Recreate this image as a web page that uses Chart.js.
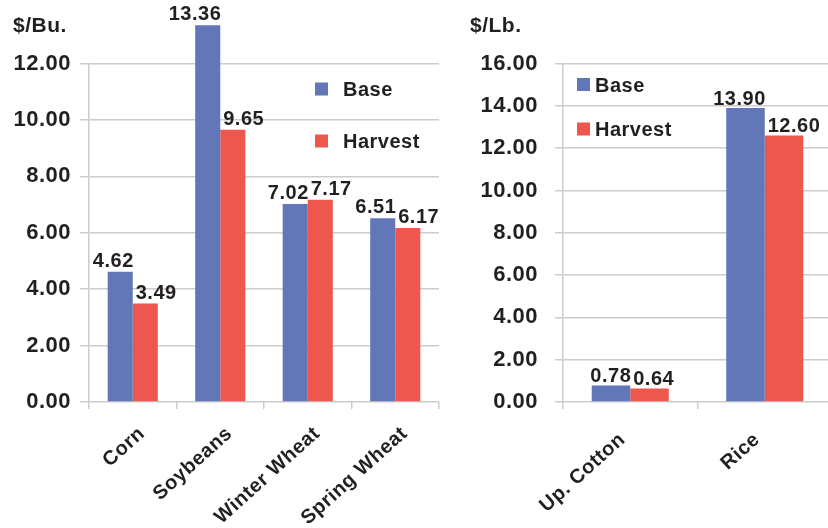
<!DOCTYPE html>
<html>
<head>
<meta charset="utf-8">
<script src="https://cdn.jsdelivr.net/npm/chart.js@4.4.0/dist/chart.umd.min.js"></script>
<style>
  html, body { margin: 0; padding: 0; background: #ffffff; width: 828px; height: 528px; overflow: hidden; }
  canvas { position: absolute; top: 0; }
  #grainChart { left: 0; }
  #fiberChart { left: 420px; }
</style>
</head>
<body>
<canvas id="grainChart" width="440" height="528"></canvas>
<canvas id="fiberChart" width="420" height="528"></canvas>
<script>
// Projected prices, base vs. harvest
const seriesNames = ['Base', 'Harvest'];

const grainCrops   = ['Corn', 'Soybeans', 'Winter Wheat', 'Spring Wheat'];
const grainBase    = [4.62, 13.36, 7.02, 6.51];
const grainHarvest = [3.49, 9.65, 7.17, 6.17];
const grainUnit    = '$/Bu.';
const grainAxisMax = 12;

const fiberCrops   = ['Up. Cotton', 'Rice'];
const fiberBase    = [0.78, 13.90];
const fiberHarvest = [0.64, 12.60];
const fiberUnit    = '$/Lb.';
const fiberAxisMax = 16;

const tickStep = 2;

const INK = '#231f20';
const GRID = '#cccccc';
const COLORS = ['#6177b8', '#ee574d'];
const FONT = '"Liberation Sans", Arial, Helvetica, sans-serif';
const SPACING = '0.5px';

Chart.defaults.font.family = FONT;
Chart.defaults.font.weight = 'bold';
Chart.defaults.color = INK;

// Value labels, slanted category names, unit caption and an in-plot legend
const decor = {
  id: 'decor',
  beforeDraw(chart) {
    chart.ctx.letterSpacing = SPACING;
  },
  afterDatasetsDraw(chart, args, o) {
    const ctx = chart.ctx;
    ctx.save();
    ctx.letterSpacing = SPACING;
    ctx.font = 'bold 20px ' + FONT;
    ctx.fillStyle = INK;
    ctx.textBaseline = 'alphabetic';
    chart.data.datasets.forEach((ds, di) => {
      const meta = chart.getDatasetMeta(di);
      meta.data.forEach((bar, i) => {
        const p = bar.getProps(['x', 'y', 'width'], true);
        const txt = ds.data[i].toFixed(2);
        if (di === 0) {
          ctx.textAlign = 'right';
          ctx.fillText(txt, p.x + p.width / 2 + 1, p.y - o.labelGap);
        } else {
          ctx.textAlign = 'left';
          ctx.fillText(txt, p.x - p.width / 2 + 3, p.y - o.labelGap);
        }
      });
    });
    ctx.restore();
  },
  afterDraw(chart, args, o) {
    const ctx = chart.ctx;
    ctx.save();
    ctx.letterSpacing = SPACING;
    ctx.fillStyle = INK;

    // category names, slanted
    const xs = chart.scales.x;
    ctx.font = 'bold 20px ' + FONT;
    ctx.textAlign = 'right';
    ctx.textBaseline = 'alphabetic';
    chart.data.labels.forEach((lab, i) => {
      const px = xs.getPixelForTick(i) + o.xLabel.dx;
      const py = xs.top + o.xLabel.dy;
      ctx.save();
      ctx.translate(px, py);
      ctx.rotate(-o.xLabel.angle * Math.PI / 180);
      ctx.fillText(lab, 0, 0);
      ctx.restore();
    });

    // unit caption
    ctx.font = 'bold 21px ' + FONT;
    ctx.textAlign = 'left';
    ctx.fillText(o.unit, o.unitX, o.unitY);

    // legend
    const lg = o.legend;
    ctx.font = 'bold 20px ' + FONT;
    chart.data.datasets.forEach((ds, i) => {
      const cy = lg.y + i * lg.gap;
      ctx.fillStyle = ds.backgroundColor;
      ctx.fillRect(lg.x, cy - lg.box / 2, lg.box, lg.box);
      ctx.fillStyle = INK;
      ctx.fillText(ds.label, lg.x + lg.box + lg.textGap, cy + 7);
    });
    ctx.restore();
  }
};

function buildChart(canvasId, labels, base, harvest, cfg) {
  return new Chart(document.getElementById(canvasId), {
    type: 'bar',
    data: {
      labels: labels,
      datasets: [base, harvest].map((vals, i) => ({
        label: seriesNames[i],
        data: vals,
        backgroundColor: COLORS[i],
        borderWidth: 0,
        categoryPercentage: 0.573,
        barPercentage: 1.0,
        clip: false
      }))
    },
    options: {
      responsive: false,
      animation: false,
      layout: { padding: { top: cfg.top, right: cfg.right, left: 0, bottom: 0 } },
      plugins: {
        legend: { display: false },
        tooltip: { enabled: false },
        decor: cfg.decor
      },
      scales: {
        x: {
          grid: { display: true, drawOnChartArea: false, color: GRID, lineWidth: 1.5, tickLength: 7 },
          border: { display: false },
          ticks: { display: false },
          afterFit: s => { s.height = 528 - cfg.bottom; }
        },
        y: {
          min: 0,
          max: cfg.max,
          grid: { color: GRID, lineWidth: 1.5, tickLength: cfg.tickLen },
          border: { display: true, color: GRID, width: 1.5 },
          ticks: {
            stepSize: tickStep, padding: cfg.tickPad,
            font: { size: 22, weight: 'bold' }, color: INK,
            callback: v => Number(v).toFixed(2)
          },
          afterFit: s => { s.width = cfg.axisWidth; }
        }
      }
    },
    plugins: [decor]
  });
}

buildChart('grainChart', grainCrops, grainBase, grainHarvest, {
  max: grainAxisMax, top: 63.5, bottom: 402, right: 1, axisWidth: 89,
  tickLen: 9, tickPad: 9,
  decor: {
    labelGap: 5, unit: grainUnit, unitX: 13, unitY: 32,
    xLabel: { dx: 13, dy: 33, angle: 42 },
    legend: { x: 315, y: 89, gap: 52, box: 13, textGap: 15 }
  }
});

buildChart('fiberChart', fiberCrops, fiberBase, fiberHarvest, {
  max: fiberAxisMax, top: 63.5, bottom: 402, right: 8, axisWidth: 143,
  tickLen: 8, tickPad: 17,
  decor: {
    labelGap: 3, unit: fiberUnit, unitX: 50, unitY: 32,
    xLabel: { dx: -4, dy: 39, angle: 42 },
    legend: { x: 157, y: 84.5, gap: 44.5, box: 13, textGap: 5 }
  }
});
</script>
</body>
</html>
